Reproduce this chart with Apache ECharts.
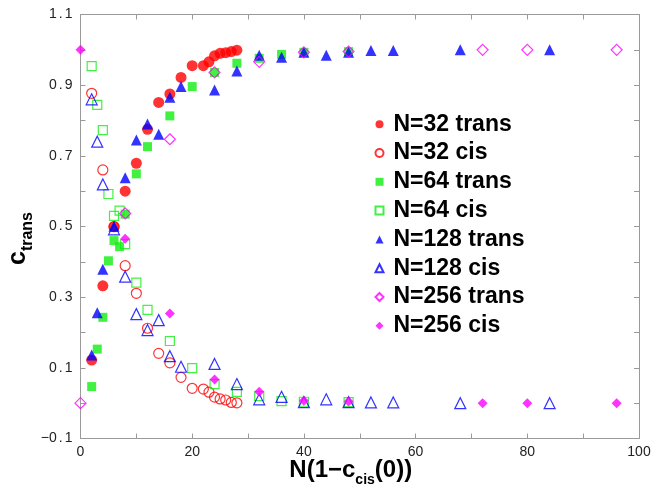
<!DOCTYPE html>
<html><head><meta charset="utf-8">
<script src="https://cdn.jsdelivr.net/npm/echarts@6/dist/echarts.min.js"></script>
<style>html,body{margin:0;padding:0;background:#fff}#c{width:651px;height:487px}</style>
</head><body><div id="c"></div>
<script>
// ---- data ----
const x32 = [2,4,6,8,10,12,14,16,18,20,22,23,24,25,26,27,28];
const trans32 = [0.122,0.332,0.499,0.600,0.679,0.775,0.851,0.875,0.922,0.955,0.955,0.966,0.983,0.990,0.992,0.995,0.999];
const cis32 = [0.877,0.660,0.500,0.389,0.311,0.212,0.141,0.114,0.073,0.042,0.040,0.031,0.017,0.012,0.009,0.002,0.001];

const x64 = [2,3,4,5,6,7,8,10,12,16,20,24,28,32,36,40,48];
const trans64 = [0.047,0.153,0.243,0.403,0.460,0.443,0.535,0.649,0.726,0.813,0.896,0.936,0.962,0.976,0.987,0.993,0.995];
const cis64 = [0.954,0.844,0.773,0.592,0.530,0.545,0.450,0.341,0.264,0.176,0.099,0.054,0.032,0.020,0.006,0.004,0.003];

const x128 = [2,3,4,6,8,10,12,14,16,18,24,28,32,36,40,44,48,52,56,68,84];
const trans128 = [0.136,0.256,0.379,0.501,0.638,0.745,0.790,0.761,0.866,0.896,0.886,0.940,0.985,0.979,0.993,0.985,0.993,0.998,0.998,1.0,1.0];
const cis128 = [0.860,0.740,0.619,0.492,0.358,0.252,0.207,0.235,0.133,0.103,0.111,0.054,0.011,0.018,0.003,0.011,0.003,0.002,0.002,0.0,0.0];

const x256 = [0,8,16,24,32,40,48,72,80,96];
const trans256 = [0.0,0.537,0.747,0.936,0.966,0.993,0.995,1.0,1.0,1.0];
const cis256 = [1.0,0.465,0.254,0.067,0.032,0.007,0.005,0.0,0.0,0.0];

const legendNames = ['N=32 trans','N=32 cis','N=64 trans','N=64 cis','N=128 trans','N=128 cis','N=256 trans','N=256 cis'];

// ---- chart ----
const FONT = '"Liberation Sans", Arial, Helvetica, sans-serif';
const RED = '#ff0000', GREEN = '#11ee11', BLUE = '#0000ff', MAG = '#ff00ff';
function pts(xs, ys){ return xs.map((x,i)=>[x, ys[i]]); }
function filled(name, xs, ys, symbol, size, color){
  return {type:'scatter', name, data:pts(xs,ys), symbol, symbolSize:size,
    itemStyle:{color}, emphasis:{disabled:true}};
}
function hollow(name, xs, ys, symbol, size, color){
  return {type:'scatter', name, data:pts(xs,ys), symbol, symbolSize:size,
    itemStyle:{color:'rgba(255,255,255,0)', borderColor:color, borderWidth:1.2}, emphasis:{disabled:true}};
}
const lineCol = '#9a9a9a';
const axLine = {show:true, onZero:false, lineStyle:{color:lineCol, width:1}};
const axTick = {show:true, inside:true, length:5, lineStyle:{color:lineCol, width:1}};
const xFmt = v => (Math.round(v) % 20 === 0) ? String(Math.round(v)) : '';
const yFmt = v => {
  const k = Math.round(v*10);
  if (Math.abs(k) % 2 !== 1) return '';
  const s = (k<0?'\u2212':'') + (Math.abs(k)/10).toFixed(1);
  const parts = s.split('.');
  return '{d|' + parts[0] + '}{p|.}{d|' + parts[1] + '}';
};

const chart = echarts.init(document.getElementById('c'), null, {renderer:'canvas'});
chart.setOption({
  animation:false,
  backgroundColor:'#fff',
  grid:{left:80.5, right:12, top:14.5, bottom:48.5, containLabel:false, outerBoundsMode:'none'},
  legend:{
    orient:'vertical', left:369.5, top:107.2, itemWidth:8, itemHeight:8, itemGap:4.8,
    selectedMode:false,
    textStyle:{fontSize:23, fontWeight:'bold', fontFamily:FONT, color:'#000', lineHeight:24, padding:[0,0,0,5]},
    data:legendNames
  },
  xAxis:[
    {type:'value', min:0, max:100, interval:10, position:'bottom',
     axisLine:axLine, axisTick:axTick, splitLine:{show:false},
     axisLabel:{formatter:xFmt, fontSize:14, color:'#222', margin:7, fontFamily:FONT},
     name:'{a|N(1\u2212c}{b|cis}{a|(0))}', nameLocation:'middle', nameGap:20, nameMoveOverlap:false,
     nameTextStyle:{padding:[0,18,0,0], rich:{
       a:{fontSize:24, fontWeight:'bold', fontFamily:FONT, color:'#000', padding:[0,0,5,0], verticalAlign:'bottom'},
       b:{fontSize:14, fontWeight:'bold', fontFamily:FONT, color:'#000', verticalAlign:'bottom'}}}
    },
    {type:'value', min:0, max:100, interval:10, position:'top',
     axisLine:axLine, axisTick:axTick, splitLine:{show:false}, axisLabel:{show:false}}
  ],
  yAxis:[
    {type:'value', min:-0.1, max:1.1, interval:0.1, position:'left',
     axisLine:axLine, axisTick:axTick, splitLine:{show:false},
     axisLabel:{formatter:yFmt, color:'#222', margin:8,
       rich:{d:{fontSize:14, fontFamily:FONT, color:'#222'}, p:{fontSize:14, fontFamily:FONT, color:'#222', padding:[0,2,0,2]}}},
     name:'{a|c}{b|trans}', nameLocation:'middle', nameGap:45, nameRotate:90, nameMoveOverlap:false,
     nameTextStyle:{padding:[0,24,0,0], rich:{
       a:{fontSize:25, fontWeight:'bold', fontFamily:FONT, color:'#000', padding:[0,0,5,0], verticalAlign:'bottom'},
       b:{fontSize:16, fontWeight:'bold', fontFamily:FONT, color:'#000', verticalAlign:'bottom'}}}
    },
    {type:'value', min:-0.1, max:1.1, interval:0.1, position:'right',
     axisLine:axLine, axisTick:axTick, splitLine:{show:false}, axisLabel:{show:false}}
  ],
  series:[
    filled('N=32 trans', x32, trans32, 'circle', 11, RED),
    hollow('N=32 cis', x32, cis32, 'circle', 10, RED),
    filled('N=64 trans', x64, trans64, 'rect', 9, GREEN),
    hollow('N=64 cis', x64, cis64, 'rect', 9, GREEN),
    filled('N=128 trans', x128, trans128, 'triangle', 11, BLUE),
    hollow('N=128 cis', x128, cis128, 'triangle', 11, BLUE),
    hollow('N=256 trans', x256, trans256, 'diamond', 11, MAG),
    filled('N=256 cis', x256, cis256, 'diamond', 10, MAG)
  ]
});
</script></body></html>
